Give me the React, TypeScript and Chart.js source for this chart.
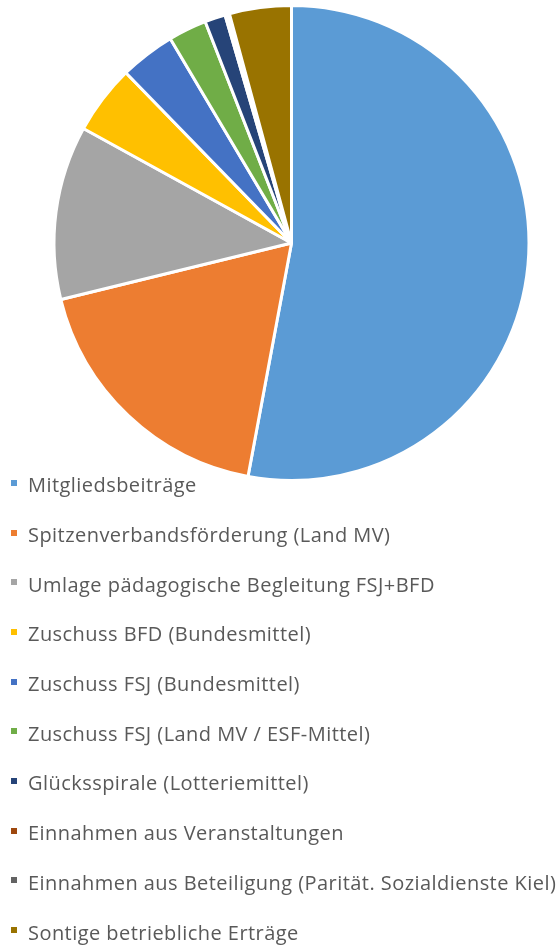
import React, { useEffect, useRef } from "react";
import { Chart, registerables } from "chart.js";

Chart.register(...registerables);

const labels = [
  "Mitgliedsbeiträge",
  "Spitzenverbandsförderung (Land MV)",
  "Umlage pädagogische Begleitung FSJ+BFD",
  "Zuschuss BFD (Bundesmittel)",
  "Zuschuss FSJ (Bundesmittel)",
  "Zuschuss FSJ (Land MV / ESF-Mittel)",
  "Glücksspirale (Lotteriemittel)",
  "Einnahmen aus Veranstaltungen",
  "Einnahmen aus Beteiligung (Parität. Sozialdienste Kiel)",
  "Sontige betriebliche Erträge",
];

const values = [52.8, 18.2, 11.8, 4.7, 3.75, 2.6, 1.4, 0.2, 0.1, 4.2];

const colors = [
  "#5B9BD5",
  "#ED7D31",
  "#A5A5A5",
  "#FFC000",
  "#4472C4",
  "#70AD47",
  "#264478",
  "#9E480E",
  "#636363",
  "#997300",
];

export default function App() {
  const ref = useRef<HTMLCanvasElement | null>(null);

  useEffect(() => {
    if (!ref.current) return;
    const chart = new Chart(ref.current, {
      type: "pie",
      data: {
        labels,
        datasets: [
          {
            data: values,
            backgroundColor: colors,
            borderColor: "#ffffff",
            borderWidth: 3,
          },
        ],
      },
      options: {
        responsive: false,
        animation: false,
        layout: { padding: { top: 4, bottom: 5, left: 24, right: 0 } },
        plugins: {
          legend: { display: false },
          tooltip: { enabled: false },
        },
      },
    });
    return () => chart.destroy();
  }, []);

  return (
    <div
      style={{
        position: "absolute",
        left: 0,
        top: 0,
        width: 559,
        height: 945,
        background: "#ffffff",
        fontFamily: "'Open Sans', Lato, sans-serif",
      }}
    >
      <canvas ref={ref} width={559} height={487} style={{ display: "block" }} />
      <div style={{ position: "absolute", left: 0, top: 460, width: 559 }}>
        {labels.map((l, i) => (
          <div
            key={l}
            style={{
              height: 49.7,
              display: "flex",
              alignItems: "center",
              whiteSpace: "nowrap",
            }}
          >
            <span
              style={{
                display: "inline-block",
                position: "relative",
                top: -2,
                width: 6,
                height: 6,
                marginLeft: 11,
                marginRight: 11,
                background: colors[i],
              }}
            />
            <span style={{ fontSize: 20, letterSpacing: 0.45, color: "#595959" }}>{l}</span>
          </div>
        ))}
      </div>
    </div>
  );
}
